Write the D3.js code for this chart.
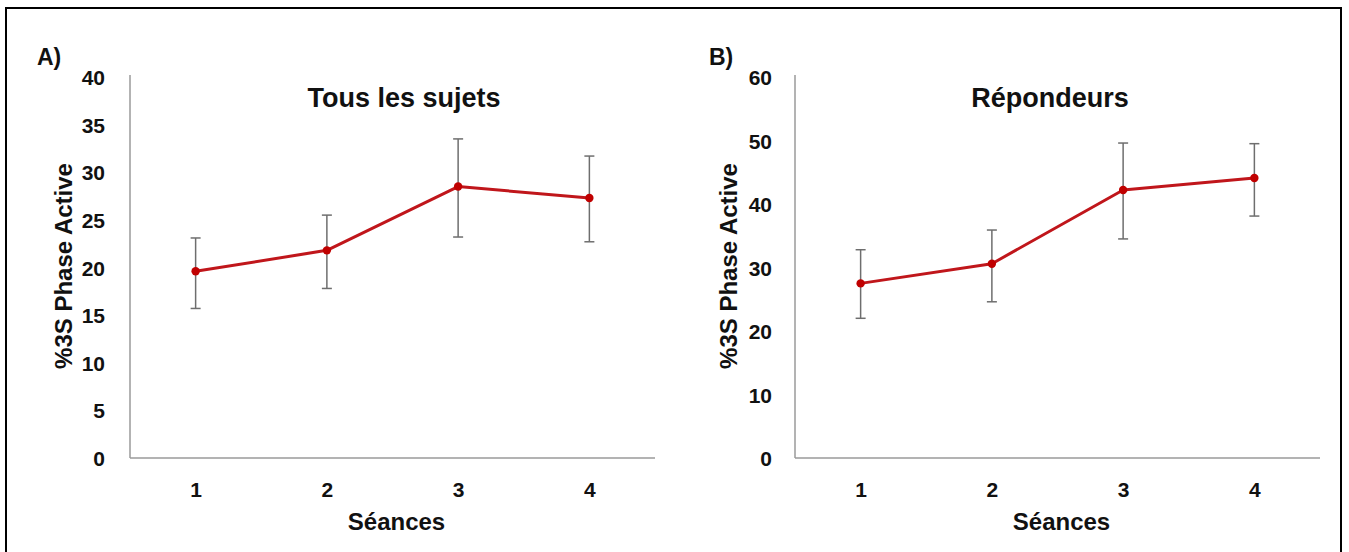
<!DOCTYPE html>
<html><head><meta charset="utf-8">
<script src="https://cdn.jsdelivr.net/npm/d3@7"></script>
<style>
body{margin:0;background:#fff;}
svg text{font-family:"Liberation Sans",Arial,sans-serif;font-weight:bold;fill:#111;}
</style></head>
<body><svg id="c" width="1349" height="552"></svg>
<script>
const categories = ["1","2","3","4"];
const tickLabelsA = [0,5,10,15,20,25,30,35,40];
const tickLabelsB = [0,10,20,30,40,50,60];
const meanA = [19.6, 21.8, 28.5, 27.3];
const upperA = [23.1, 25.5, 33.5, 31.7];
const lowerA = [15.7, 17.8, 23.2, 22.7];
const meanB = [27.5, 30.6, 42.2, 44.1];
const upperB = [32.8, 35.9, 49.6, 49.5];
const lowerB = [22.0, 24.6, 34.5, 38.1];
const titles = ["Tous les sujets","Répondeurs"];
const panelLabels = ["A)","B)"];
const yTitle = "%3S Phase Active";
const xTitle = "Séances";

const svg = d3.select("#c");
svg.append("rect").attr("x",6).attr("y",8).attr("width",1335).attr("height",570)
  .attr("fill","none").attr("stroke","#000").attr("stroke-width",2);

function panel(opt){
  const g = svg.append("g");
  const x = d3.scalePoint().domain(categories).range([opt.x0, opt.x1]).padding(0.5);
  const y = d3.scaleLinear().domain([0, opt.max]).range([458, 77]);
  g.append("line").attr("x1",opt.x0).attr("x2",opt.x0).attr("y1",75).attr("y2",458)
    .attr("stroke","#9a9a9a").attr("stroke-width",1.5);
  g.append("line").attr("x1",opt.x0).attr("x2",opt.x1).attr("y1",458).attr("y2",458)
    .attr("stroke","#9a9a9a").attr("stroke-width",1.5);
  const ya = d3.axisLeft(y).tickValues(opt.ticks).tickSize(0).tickPadding(opt.pad);
  const yg = g.append("g").attr("transform",`translate(${opt.x0},0)`).call(ya);
  yg.select(".domain").remove();
  yg.selectAll("text").style("font-size","21px").attr("dy","0.36em");
  const xa = d3.axisBottom(x).tickSize(0).tickPadding(24);
  const xg = g.append("g").attr("transform","translate(0,458)").call(xa);
  xg.select(".domain").remove();
  xg.selectAll("text").style("font-size","21px");
  const eb = g.append("g").attr("stroke","#6e6e6e").attr("stroke-width",1.5);
  categories.forEach((c,i)=>{
    const cx = x(c);
    eb.append("line").attr("x1",cx).attr("x2",cx).attr("y1",y(opt.up[i])).attr("y2",y(opt.lo[i]));
    eb.append("line").attr("x1",cx-5).attr("x2",cx+5).attr("y1",y(opt.up[i])).attr("y2",y(opt.up[i]));
    eb.append("line").attr("x1",cx-5).attr("x2",cx+5).attr("y1",y(opt.lo[i])).attr("y2",y(opt.lo[i]));
  });
  const line = d3.line().x((d,i)=>x(categories[i])).y(d=>y(d));
  g.append("path").datum(opt.mean).attr("d",line).attr("fill","none")
    .attr("stroke","#c0161b").attr("stroke-width",3).attr("stroke-linejoin","round");
  g.selectAll("circle.pt").data(opt.mean).enter().append("circle")
    .attr("cx",(d,i)=>x(categories[i])).attr("cy",d=>y(d)).attr("r",4.2).attr("fill","#c00000");
  g.append("text").attr("x",opt.titleX).attr("y",107).attr("text-anchor","middle")
    .style("font-size","27px").text(opt.title);
  g.append("text").attr("x",(opt.x0+opt.x1)/2+4).attr("y",530).attr("text-anchor","middle")
    .style("font-size","24px").text(xTitle);
  g.append("text").attr("transform",`translate(${opt.yTitleX},266) rotate(-90)`)
    .attr("text-anchor","middle").style("font-size","24px").text(yTitle);
  g.append("text").attr("x",opt.labX).attr("y",65).style("font-size","23px").text(opt.label);
}

panel({x0:130,x1:655,max:40,ticks:tickLabelsA,pad:25,mean:meanA,up:upperA,lo:lowerA,
  title:titles[0],titleX:404,yTitleX:72,labX:37,label:panelLabels[0]});
panel({x0:795,x1:1320,max:60,ticks:tickLabelsB,pad:23,mean:meanB,up:upperB,lo:lowerB,
  title:titles[1],titleX:1050,yTitleX:737,labX:709,label:panelLabels[1]});
</script></body></html>
